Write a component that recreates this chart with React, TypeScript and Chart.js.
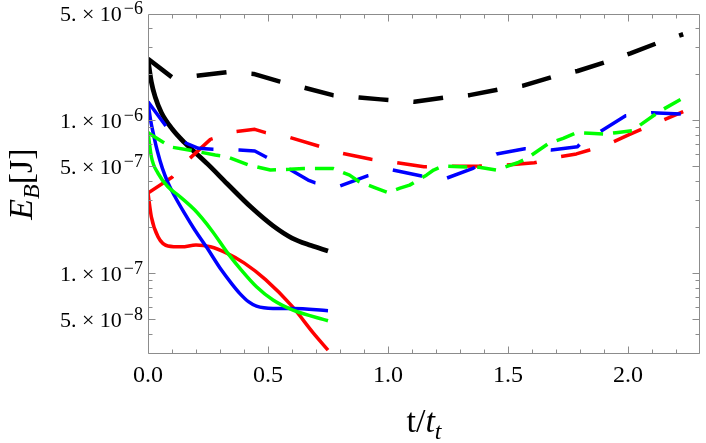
import React, { useEffect, useRef } from 'react';
import { Chart, registerables } from 'chart.js';
Chart.register(...registerables);

// ---- data (t / t_t, E_B in J) ----
const blackSolidT = [0, 0.014, 0.03, 0.056, 0.1, 0.15, 0.2, 0.25, 0.33, 0.43, 0.52, 0.6, 0.68, 0.75];
const blackSolidV = [2.5e-6, 1.78e-6, 1.42e-6, 1.12e-6, 8.8e-7, 7.2e-7, 6.1e-7, 5.15e-7, 3.85e-7, 2.7e-7, 2.05e-7, 1.7e-7, 1.52e-7, 1.4e-7];

const blackDashT = [0, 0.1, 0.2, 0.33, 0.44, 0.55, 0.66, 0.77, 0.88, 0.97, 1.11, 1.24, 1.34, 1.46, 1.56, 1.69, 1.79, 1.91, 2.01, 2.125, 2.23];
const blackDashV = [2.52e-6, 1.91e-6, 1.95e-6, 2.06e-6, 2.01e-6, 1.79e-6, 1.62e-6, 1.46e-6, 1.41e-6, 1.37e-6, 1.32e-6, 1.41e-6, 1.46e-6, 1.59e-6, 1.68e-6, 1.93e-6, 2.1e-6, 2.41e-6, 2.74e-6, 3.21e-6, 3.65e-6];

const redSolidT = [0, 0.014, 0.042, 0.083, 0.14, 0.2, 0.26, 0.33, 0.4, 0.49, 0.6, 0.69, 0.75];
const redSolidV = [3.35e-7, 2.34e-7, 1.73e-7, 1.51e-7, 1.49e-7, 1.53e-7, 1.49e-7, 1.35e-7, 1.17e-7, 9.1e-8, 6.1e-8, 4.05e-8, 3.15e-8];

const redDashT = [0, 0.1, 0.17, 0.26, 0.36, 0.445, 0.49, 0.59, 0.71, 0.81, 0.93, 1.035, 1.15, 1.27, 1.38, 1.49, 1.61, 1.715, 1.785, 1.84, 1.94, 2.0, 2.05, 2.146, 2.23];
const redDashV = [3.35e-7, 4.24e-7, 5.56e-7, 7.5e-7, 8.42e-7, 8.73e-7, 8.3e-7, 7.74e-7, 6.79e-7, 6.08e-7, 5.56e-7, 5.28e-7, 4.97e-7, 5.0e-7, 5.02e-7, 5.1e-7, 5.28e-7, 5.78e-7, 6.03e-7, 6.4e-7, 7.24e-7, 8.0e-7, 8.65e-7, 1.0e-6, 1.14e-6];

const blueSolidT = [0, 0.01, 0.025, 0.04, 0.06, 0.085, 0.111, 0.15, 0.195, 0.243, 0.306, 0.35, 0.382, 0.42, 0.452, 0.521, 0.604, 0.75];
const blueSolidV = [1.32e-6, 1.02e-6, 7.8e-7, 6.2e-7, 4.85e-7, 3.85e-7, 3.2e-7, 2.5e-7, 1.92e-7, 1.49e-7, 1.05e-7, 8.5e-8, 7.4e-8, 6.5e-8, 6.1e-8, 5.9e-8, 5.9e-8, 5.7e-8];

const blueDashT = [0, 0.077, 0.16, 0.21, 0.27, 0.38, 0.445, 0.49, 0.59, 0.667, 0.695, 0.8, 0.917, 1.02, 1.14, 1.243, 1.354, 1.452, 1.57, 1.68, 1.79, 1.8, 1.89, 1.99, 2.1, 2.22];
const blueDashV = [1.32e-6, 9.08e-7, 7.08e-7, 6.56e-7, 6.46e-7, 6.4e-7, 6.3e-7, 5.78e-7, 4.78e-7, 4.07e-7, 3.91e-7, 3.72e-7, 4.35e-7, 4.73e-7, 4.33e-7, 4.18e-7, 4.85e-7, 6.03e-7, 6.52e-7, 6.4e-7, 6.72e-7, 7.0e-7, 8.55e-7, 1.07e-6, 1.12e-6, 1.1e-6];

const greenSolidT = [0, 0.014, 0.042, 0.083, 0.125, 0.195, 0.264, 0.333, 0.389, 0.452, 0.521, 0.604, 0.75];
const greenSolidV = [8.42e-7, 5.78e-7, 4.5e-7, 3.68e-7, 3.25e-7, 2.59e-7, 1.92e-7, 1.35e-7, 1.05e-7, 8.17e-8, 6.69e-8, 5.75e-8, 4.9e-8];

const greenDashT = [0, 0.06, 0.1, 0.17, 0.28, 0.33, 0.42, 0.51, 0.59, 0.65, 0.77, 0.84, 0.88, 0.95, 1.0, 1.05, 1.09, 1.16, 1.19, 1.23, 1.3, 1.38, 1.45, 1.54, 1.58, 1.67, 1.73, 1.785, 1.84, 1.91, 1.95, 2.02, 2.05, 2.13, 2.22];
const greenDashV = [8.3e-7, 7.25e-7, 6.67e-7, 6.4e-7, 5.93e-7, 5.78e-7, 5.1e-7, 4.73e-7, 4.78e-7, 4.85e-7, 4.85e-7, 4.38e-7, 3.97e-7, 3.6e-7, 3.37e-7, 3.6e-7, 3.77e-7, 4.38e-7, 4.73e-7, 5.02e-7, 4.97e-7, 4.93e-7, 4.73e-7, 5.28e-7, 5.65e-7, 7.08e-7, 7.62e-7, 8.3e-7, 8.22e-7, 8.13e-7, 8.3e-7, 8.55e-7, 9.3e-7, 1.14e-6, 1.37e-6];

// ---- axes / ticks ----
const X_MIN = 0;
const X_MAX = 2.3;
const Y_MIN = 2.97e-8;
const Y_MAX = 4.95e-6;
const xTickValues = [0, 0.5, 1.0, 1.5, 2.0];
const xTickLabels = ['0.0', '0.5', '1.0', '1.5', '2.0'];
const yTickValues = [5e-6, 1e-6, 5e-7, 1e-7, 5e-8];
const yTickMantissas = ['5', '1', '5', '1', '5'];
const yTickExponents = ['\u22126', '\u22126', '\u22127', '\u22127', '\u22128'];

const SERIF = '"Liberation Serif", "Times New Roman", serif';

const toPts = (ts: number[], vs: number[]) => ts.map((t, i) => ({ x: t, y: vs[i] }));

const framePlugin = {
  id: 'mmaFrame',
  afterDatasetsDraw(chart: any) {
    const { ctx, chartArea: a, scales } = chart;
    const xs = scales.x;
    const ys = scales.y;
    const L = Math.round(a.left) + 0.5;
    const R = Math.round(a.right) - 0.5;
    const T = Math.round(a.top) + 0.5;
    const B = Math.round(a.bottom) - 0.5;
    ctx.save();
    ctx.strokeStyle = '#8c8c8c';
    ctx.lineWidth = 1;
    ctx.beginPath();
    ctx.rect(L, T, R - L, B - T);
    ctx.stroke();

    // x ticks (bottom and top)
    ctx.beginPath();
    for (let i = 1; i * 0.1 < X_MAX - 1e-9; i++) {
      const v = i * 0.1;
      const px = Math.round(xs.getPixelForValue(v)) + 0.5;
      const len = i % 5 === 0 ? 7 : 4;
      ctx.moveTo(px, B);
      ctx.lineTo(px, B - len);
      ctx.moveTo(px, T);
      ctx.lineTo(px, T + len);
    }
    // y ticks (left and right)
    for (let k = -8; k <= -6; k++) {
      for (let m = 1; m <= 9; m++) {
        const v = m * Math.pow(10, k);
        if (v <= Y_MIN || v >= Y_MAX) continue;
        const py = Math.round(ys.getPixelForValue(v)) + 0.5;
        const len = m === 1 || m === 5 ? 7 : 4;
        ctx.moveTo(L, py);
        ctx.lineTo(L + len, py);
        ctx.moveTo(R, py);
        ctx.lineTo(R - len, py);
      }
    }
    ctx.stroke();

    // x tick labels
    ctx.fillStyle = '#000';
    ctx.textBaseline = 'alphabetic';
    ctx.textAlign = 'center';
    ctx.font = `24px ${SERIF}`;
    xTickValues.forEach((v, i) => {
      ctx.fillText(xTickLabels[i], xs.getPixelForValue(v), a.bottom + 28);
    });

    // y tick labels
    ctx.textAlign = 'left';
    yTickValues.forEach((v, i) => {
      const py = ys.getPixelForValue(v);
      const main = `${yTickMantissas[i]}.\u2005\u00d7\u200510`;
      ctx.font = `22px ${SERIF}`;
      const wm = ctx.measureText(main).width;
      ctx.font = `18px ${SERIF}`;
      const we = ctx.measureText(yTickExponents[i]).width;
      const gap = 2;
      const x0 = a.left - 5 - wm - we - gap;
      ctx.font = `22px ${SERIF}`;
      ctx.fillText(main, x0, py + 8);
      ctx.font = `18px ${SERIF}`;
      ctx.fillText(yTickExponents[i], x0 + wm + gap, py + 1);
    });

    // x title: t/t_t
    const xParts = [
      { s: 't', f: `34px ${SERIF}`, dy: 0 },
      { s: '/', f: `34px ${SERIF}`, dy: 0 },
      { s: 't', f: `italic 34px ${SERIF}`, dy: 0 },
      { s: 't', f: `italic 24px ${SERIF}`, dy: 7 },
    ];
    let tw = 0;
    xParts.forEach((p) => { ctx.font = p.f; tw += ctx.measureText(p.s).width; });
    let cx = (a.left + a.right) / 2 - tw / 2;
    xParts.forEach((p) => {
      ctx.font = p.f;
      ctx.fillText(p.s, cx, 432 + p.dy);
      cx += ctx.measureText(p.s).width;
    });

    // y title: E_B[J]
    const yParts = [
      { s: 'E', f: `italic 34px ${SERIF}`, dy: 0 },
      { s: 'B', f: `italic 24px ${SERIF}`, dy: 7 },
      { s: '[J]', f: `34px ${SERIF}`, dy: 0 },
    ];
    let yw = 0;
    yParts.forEach((p) => { ctx.font = p.f; yw += ctx.measureText(p.s).width; });
    ctx.translate(32, (a.top + a.bottom) / 2);
    ctx.rotate(-Math.PI / 2);
    let cy = -yw / 2;
    yParts.forEach((p) => {
      ctx.font = p.f;
      ctx.fillText(p.s, cy, p.dy);
      cy += ctx.measureText(p.s).width;
    });
    ctx.restore();
  },
};

export default function App() {
  const ref = useRef<HTMLCanvasElement | null>(null);
  useEffect(() => {
    if (!ref.current) return;
    const mk = (label: string, ts: number[], vs: number[], color: string, width: number, dash: number[], order: number) => ({
      label,
      data: toPts(ts, vs),
      borderColor: color,
      backgroundColor: color,
      borderWidth: width,
      borderDash: dash,
      borderCapStyle: 'butt' as const,
      borderJoinStyle: 'round' as const,
      pointRadius: 0,
      fill: false,
      cubicInterpolationMode: dash.length ? ('default' as const) : ('monotone' as const),
      tension: 0,
      order,
    });
    const chart = new Chart(ref.current, {
      type: 'line',
      data: {
        datasets: [
          mk('green solid', greenSolidT, greenSolidV, '#00ff00', 3.5, [], 1),
          mk('green dashed', greenDashT, greenDashV, '#00ff00', 3.5, [19, 10], 2),
          mk('blue solid', blueSolidT, blueSolidV, '#0000ff', 3.5, [], 3),
          mk('blue dashed', blueDashT, blueDashV, '#0000ff', 3.5, [30, 25], 4),
          mk('red solid', redSolidT, redSolidV, '#ff0000', 3.5, [], 5),
          mk('red dashed', redDashT, redDashV, '#ff0000', 3.5, [30, 25], 6),
          mk('black solid', blackSolidT, blackSolidV, '#000000', 4.75, [], 7),
          mk('black dashed', blackDashT, blackDashV, '#000000', 4.5, [30, 25], 8),
        ],
      },
      options: {
        animation: false,
        responsive: false,
        maintainAspectRatio: false,
        layout: { padding: { left: 148, top: 14, right: 6, bottom: 89 } },
        plugins: { legend: { display: false }, tooltip: { enabled: false } },
        scales: {
          x: { type: 'linear', min: X_MIN, max: X_MAX, display: false },
          y: { type: 'logarithmic', min: Y_MIN, max: Y_MAX, display: false },
        },
      },
      plugins: [framePlugin],
    });
    return () => chart.destroy();
  }, []);
  return (
    <div style={{ position: 'absolute', left: 0, top: 0, width: 706, height: 443, background: '#fff' }}>
      <canvas ref={ref} width={706} height={443} style={{ display: 'block' }} />
    </div>
  );
}
